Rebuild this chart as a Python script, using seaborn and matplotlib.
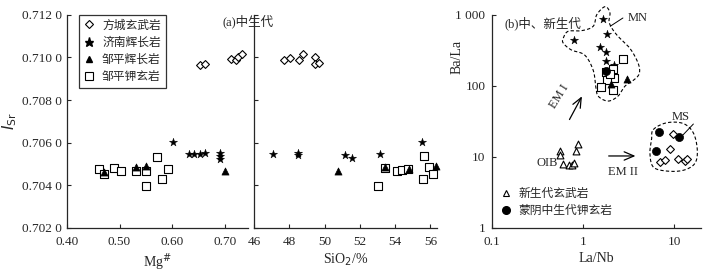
import numpy as np
import pandas as pd
import matplotlib
matplotlib.use("Agg")
import matplotlib.pyplot as plt
import seaborn as sns
from matplotlib.lines import Line2D

# ---- (a) Mg# vs Isr ----
fc_mg = [0.652, 0.662, 0.712, 0.721, 0.724, 0.732]
fc_mg_isr = [0.70963, 0.70971, 0.70992, 0.70987, 0.71002, 0.71015]
jn_mg = [0.602, 0.631, 0.642, 0.652, 0.661, 0.691, 0.691, 0.691]
jn_mg_isr = [0.70603, 0.70545, 0.70545, 0.70545, 0.70553, 0.70553, 0.70537, 0.70523]
zpg_mg = [0.471, 0.532, 0.551, 0.700]
zpg_mg_isr = [0.70464, 0.70487, 0.70490, 0.70468]
zpk_mg = [0.461, 0.471, 0.490, 0.502, 0.532, 0.551, 0.550, 0.571, 0.581, 0.591]
zpk_mg_isr = [0.70475, 0.70453, 0.70482, 0.70467, 0.70467, 0.70467, 0.70397, 0.70534, 0.70428, 0.70478]

# ---- (a) SiO2 vs Isr ----
fc_si = [47.70, 48.02, 48.55, 48.78, 49.46, 49.44, 49.68]
fc_si_isr = [0.70987, 0.70998, 0.70990, 0.71015, 0.71003, 0.70968, 0.70974]
jn_si = [47.08, 48.48, 48.48, 51.18, 51.58, 53.16, 55.54]
jn_si_isr = [0.70548, 0.70553, 0.70540, 0.70543, 0.70528, 0.70547, 0.70604]
zpg_si = [50.78, 53.44, 54.78, 56.35]
zpg_si_isr = [0.70467, 0.70486, 0.70478, 0.70492]
zpk_si = [53.03, 53.44, 54.09, 54.39, 54.75, 55.65, 55.57, 55.95, 56.18]
zpk_si_isr = [0.70398, 0.70481, 0.70467, 0.70470, 0.70476, 0.70536, 0.70430, 0.70484, 0.70454]

# ---- (b) La/Nb vs Ba/La ----
jn_lanb = [1.67, 0.79, 1.82, 1.54, 1.79, 1.79, 2.19]
jn_bala = [880, 435, 535, 348, 296, 225, 195]
zpk_lanb = [2.73, 1.80, 2.15, 2.20, 1.85, 1.57, 2.15, 2.00]
zpk_bala = [235, 155, 170, 130, 122, 95, 88, 145]
zpg_lanb = [3.05, 2.05]
zpg_bala = [125, 105]
cz_lanb = [0.56, 0.56, 0.60, 0.705, 0.766, 0.806, 0.84, 0.88]
cz_bala = [12.0, 10.8, 7.9, 7.6, 7.7, 8.2, 12.0, 15.0]
my_lanb = [6.9, 6.35, 11.4, 1.80]
my_bala = [22.5, 12.0, 19.0, 160]
fcb_lanb = [9.8, 9.0, 7.0, 7.9, 11.0, 13.2, 14.0]
fcb_bala = [21.0, 12.8, 8.6, 9.0, 9.2, 8.7, 9.2]

# outlines (b)
mn_x = [0.61, 0.69, 0.97, 1.30, 1.42, 1.75, 1.98, 1.95, 2.35, 3.28, 4.05, 4.15,
        3.57, 2.90, 2.44, 1.90, 1.48, 1.39, 1.30, 1.05, 0.75, 0.61]
mn_y = [469, 585, 597, 689, 1000, 1300, 1070, 768, 522, 337, 206, 148,
        119, 99, 72, 61, 71, 95, 165, 270, 319, 398]
ms_x = [5.92, 8.3, 12.6, 16.3, 18.0, 16.9, 12.6, 8.3, 5.92, 5.44, 5.67]
ms_y = [24.2, 30.2, 29.5, 21.7, 12.5, 8.07, 6.47, 6.32, 7.21, 11.2, 17.4]

LEG_A = ["方城玄武岩", "济南辉长岩", "邹平辉长岩", "邹平钾玄岩"]
LEG_B = ["新生代玄武岩", "蒙阴中生代钾玄岩"]

sns.set_style("ticks")
plt.rcParams['font.family'] = ['Liberation Serif', 'Noto Sans CJK SC']
plt.rcParams['axes.linewidth'] = 0.9
plt.rcParams['xtick.direction'] = 'in'
plt.rcParams['ytick.direction'] = 'in'
plt.rcParams['xtick.major.size'] = 3
plt.rcParams['ytick.major.size'] = 3
plt.rcParams['xtick.major.width'] = 0.8
plt.rcParams['ytick.major.width'] = 0.8
plt.rcParams['xtick.major.pad'] = 5.5
plt.rcParams['xtick.labelsize'] = 9.5
plt.rcParams['ytick.labelsize'] = 9.5

STY = {
    "fc": dict(marker="D", s=16, facecolor="white", edgecolor="black", linewidth=0.8),
    "jn": dict(marker="*", s=38, color="black", edgecolor="black", linewidth=0.3),
    "zpg": dict(marker="^", s=26, color="black", edgecolor="black", linewidth=0.5),
    "zpk": dict(marker="s", s=34, facecolor="white", edgecolor="black", linewidth=0.8),
    "cz": dict(marker="^", s=24, facecolor="white", edgecolor="black", linewidth=0.8),
    "my": dict(marker="o", s=34, color="black", edgecolor="black", linewidth=0.5),
}


def pts(ax, x, y, key):
    df = pd.DataFrame({"x": x, "y": y})
    sns.scatterplot(data=df, x="x", y="y", ax=ax, clip_on=False,
                    zorder=3, legend=False, **STY[key])


def closed_curve(xs, ys, n=16):
    # smooth closed outline (Catmull-Rom) in log space
    P = np.column_stack([np.log10(xs), np.log10(ys)])
    N = len(P)
    t = np.linspace(0, 1, n, endpoint=False)[:, None]
    out = []
    for i in range(N):
        p0, p1, p2, p3 = P[i - 1], P[i], P[(i + 1) % N], P[(i + 2) % N]
        out.append(0.5 * (2 * p1 + (-p0 + p2) * t + (2 * p0 - 5 * p1 + 4 * p2 - p3) * t ** 2
                          + (-p0 + 3 * p1 - 3 * p2 + p3) * t ** 3))
    out = np.vstack(out + [out[0][:1]])
    return 10 ** out[:, 0], 10 ** out[:, 1]


fig = plt.figure(figsize=(7.1, 2.73), dpi=100)
ax1 = fig.add_axes([0.094, 0.165, 0.255, 0.781])
ax2 = fig.add_axes([0.358, 0.165, 0.258, 0.781])
ax3 = fig.add_axes([0.6925, 0.165, 0.2955, 0.781])

# panel a-1
pts(ax1, fc_mg, fc_mg_isr, "fc")
pts(ax1, jn_mg, jn_mg_isr, "jn")
pts(ax1, zpk_mg, zpk_mg_isr, "zpk")
pts(ax1, zpg_mg, zpg_mg_isr, "zpg")
ax1.set_xlim(0.40, 0.743)
ax1.set_ylim(0.702, 0.712)
ax1.set_xticks([0.40, 0.50, 0.60, 0.70])
ax1.set_xticklabels(["0.40", "0.50", "0.60", "0.70"])
yt = [0.702, 0.704, 0.706, 0.708, 0.710, 0.712]
ax1.set_yticks(yt)
ax1.set_yticklabels([f"{v:.3f} 0" for v in yt])
ax1.set_xlabel("Mg$^{\\#}$", fontsize=10, labelpad=3)
ax1.set_ylabel("$I_{\\mathrm{Sr}}$", fontsize=11, labelpad=2)
sns.despine(ax=ax1)

handles = [
    Line2D([], [], ls="", marker="D", ms=4.5, mfc="white", mec="black", mew=0.8),
    Line2D([], [], ls="", marker="*", ms=6.5, color="black"),
    Line2D([], [], ls="", marker="^", ms=5, color="black"),
    Line2D([], [], ls="", marker="s", ms=6, mfc="white", mec="black", mew=0.8),
]
leg = ax1.legend(handles, LEG_A, loc="upper left", bbox_to_anchor=(0.065, 1.0),
                 frameon=True, fancybox=False, edgecolor="black", fontsize=8.5,
                 handlelength=1.0, handletextpad=0.6, labelspacing=0.45,
                 borderpad=0.4, borderaxespad=0.0)
leg.get_frame().set_linewidth(0.9)

# panel a-2
pts(ax2, fc_si, fc_si_isr, "fc")
pts(ax2, jn_si, jn_si_isr, "jn")
pts(ax2, zpk_si, zpk_si_isr, "zpk")
pts(ax2, zpg_si, zpg_si_isr, "zpg")
ax2.set_xlim(46, 56.4)
ax2.set_ylim(0.702, 0.712)
ax2.set_xticks([46, 48, 50, 52, 54, 56])
ax2.set_yticks(yt)
ax2.set_yticklabels([])
ax2.set_xlabel("SiO$_2$/%", fontsize=10, labelpad=3)
ax2.set_ylabel("")
sns.despine(ax=ax2)

fig.text(0.35, 0.92, "(a)中生代", fontsize=9, ha="center", va="center")

# panel b
cx, cy = closed_curve(mn_x, mn_y)
ax3.plot(cx, cy, color="black", lw=0.8, ls=(0, (3, 2)), clip_on=False)
cx, cy = closed_curve(ms_x, ms_y)
ax3.plot(cx, cy, color="black", lw=0.8, ls=(0, (3, 2)), clip_on=False)
pts(ax3, jn_lanb, jn_bala, "jn")
pts(ax3, zpk_lanb, zpk_bala, "zpk")
pts(ax3, zpg_lanb, zpg_bala, "zpg")
pts(ax3, cz_lanb, cz_bala, "cz")
pts(ax3, my_lanb, my_bala, "my")
pts(ax3, fcb_lanb, fcb_bala, "fc")
ax3.set_xscale("log")
ax3.set_yscale("log")
ax3.set_xlim(0.1, 20)
ax3.set_ylim(1, 1000)
ax3.set_xticks([0.1, 1, 10])
ax3.set_xticklabels(["0.1", "1", "10"])
ax3.set_yticks([1, 10, 100, 1000])
ax3.set_yticklabels(["1", "10", "100", "1 000"])
ax3.minorticks_off()
ax3.tick_params(axis="y", pad=4.5)
ax3.set_xlabel("La/Nb", fontsize=10, labelpad=3)
ax3.set_ylabel("Ba/La", fontsize=10)
ax3.yaxis.set_label_coords(-0.135, 0.8)
sns.despine(ax=ax3)

ax3.text(0.063, 0.96, "(b)中、新生代", transform=ax3.transAxes, fontsize=9,
         ha="left", va="center")
ax3.text(3.1, 900, "MN", fontsize=9, ha="left", va="center")
ax3.plot([2.0, 2.75], [690, 900], color="black", lw=0.7)
ax3.text(9.4, 37, "MS", fontsize=9, ha="left", va="center")
ax3.plot([12.6, 16.3], [20.5, 29], color="black", lw=0.7)
ax3.text(0.53, 8.1, "OIB", fontsize=9, ha="right", va="center")
ax3.annotate("", xy=(1.01, 77), xytext=(0.69, 31),
             arrowprops=dict(arrowstyle="->,head_length=0.7,head_width=0.3", lw=0.9, color="black"))
ax3.text(0.55, 70, "EM I", fontsize=9, rotation=58, ha="center", va="center")
ax3.annotate("", xy=(4.05, 10.3), xytext=(1.79, 10.3),
             arrowprops=dict(arrowstyle="->,head_length=0.7,head_width=0.3", lw=0.9, color="black"))
ax3.text(2.77, 6.1, "EM II", fontsize=9, ha="center", va="center")

handles_b = [
    Line2D([], [], ls="", marker="^", ms=5, mfc="white", mec="black", mew=0.8),
    Line2D([], [], ls="", marker="o", ms=5.5, color="black"),
]
ax3.legend(handles_b, LEG_B, loc="lower left", bbox_to_anchor=(0.02, 0.03),
           frameon=False, fontsize=8.5, handlelength=1.0, handletextpad=0.5,
           labelspacing=0.4, borderaxespad=0.0)

fig.savefig("out.png", dpi=100)
